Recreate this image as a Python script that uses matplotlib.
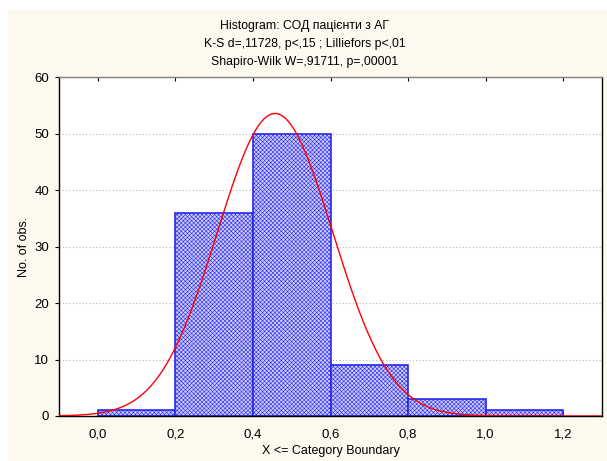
import numpy as np
import matplotlib
matplotlib.use("Agg")
from matplotlib import pyplot as plt
from matplotlib.patches import Rectangle

# histogram data (X <= category boundary)
bin_edges = [0.0, 0.2, 0.4, 0.6, 0.8, 1.0, 1.2]
counts = [1, 36, 50, 9, 3, 1]
n_obs = 100
fit_mean = 0.457
fit_sd = 0.149

x_ticks = [0.0, 0.2, 0.4, 0.6, 0.8, 1.0, 1.2]
x_tick_labels = ["0,0", "0,2", "0,4", "0,6", "0,8", "1,0", "1,2"]
y_ticks = [0, 10, 20, 30, 40, 50, 60]

title_lines = ["Histogram: СОД пацієнти з АГ",
               "K-S d=,11728, p<,15 ; Lilliefors p<,01",
               "Shapiro-Wilk W=,91711, p=,00001"]

plt.rcParams['font.family'] = ['Liberation Sans', 'DejaVu Sans']
plt.rcParams['hatch.color'] = '#b6b6f5'
plt.rcParams['hatch.linewidth'] = 0.4

fig = plt.figure(figsize=(6.07, 4.61), dpi=100)
fig.patch.set_facecolor('white')
# cream panel behind the chart
fig.patches.append(Rectangle((8 / 607, 0), 1, 1 - 10 / 461, transform=fig.transFigure,
                             facecolor='#fdf9ef', edgecolor='none', zorder=-10))

ax = fig.add_axes([59 / 607, 1 - 416 / 461, (602 - 59) / 607, (416 - 77) / 461])
ax.set_facecolor('white')

widths = np.diff(bin_edges)
ax.bar(bin_edges[:-1], counts, width=widths, align='edge', facecolor='#ccccfc',
       edgecolor='#2828ee', linewidth=1.2, hatch='xxxxxxxx', zorder=2)

xs = np.linspace(-0.1, 1.3, 400)
bw = bin_edges[1] - bin_edges[0]
ys = n_obs * bw * np.exp(-0.5 * ((xs - fit_mean) / fit_sd) ** 2) / (fit_sd * np.sqrt(2 * np.pi))
ax.plot(xs, ys, color='#ff0000', linewidth=1.0, zorder=3)

ax.set_xlim(-0.1, 1.3)
ax.set_ylim(0, 60)
ax.set_xticks(x_ticks)
ax.set_xticklabels(x_tick_labels)
ax.set_yticks(y_ticks)
ax.yaxis.grid(True, linestyle=(0, (1, 2)), color='#b8b8b8', linewidth=0.8, zorder=0)
ax.set_axisbelow(True)
ax.tick_params(axis='x', direction='in', length=3, top=True, labelsize=9.5, pad=9)
ax.tick_params(axis='y', direction='out', length=3, labelsize=9.5, pad=4)
for s in ax.spines.values():
    s.set_color('black')
    s.set_linewidth(1.0)
ax.spines['top'].set_color('#808080')

ax.set_xlabel("X <= Category Boundary", fontsize=9, labelpad=3)
ax.set_ylabel("No. of obs.", fontsize=9, labelpad=3)

for i, line in enumerate(title_lines):
    fig.text(305 / 607, 1 - (26 + i * 18) / 461, line, ha='center', va='center', fontsize=8.8)

fig.savefig("out.png", dpi=100)
